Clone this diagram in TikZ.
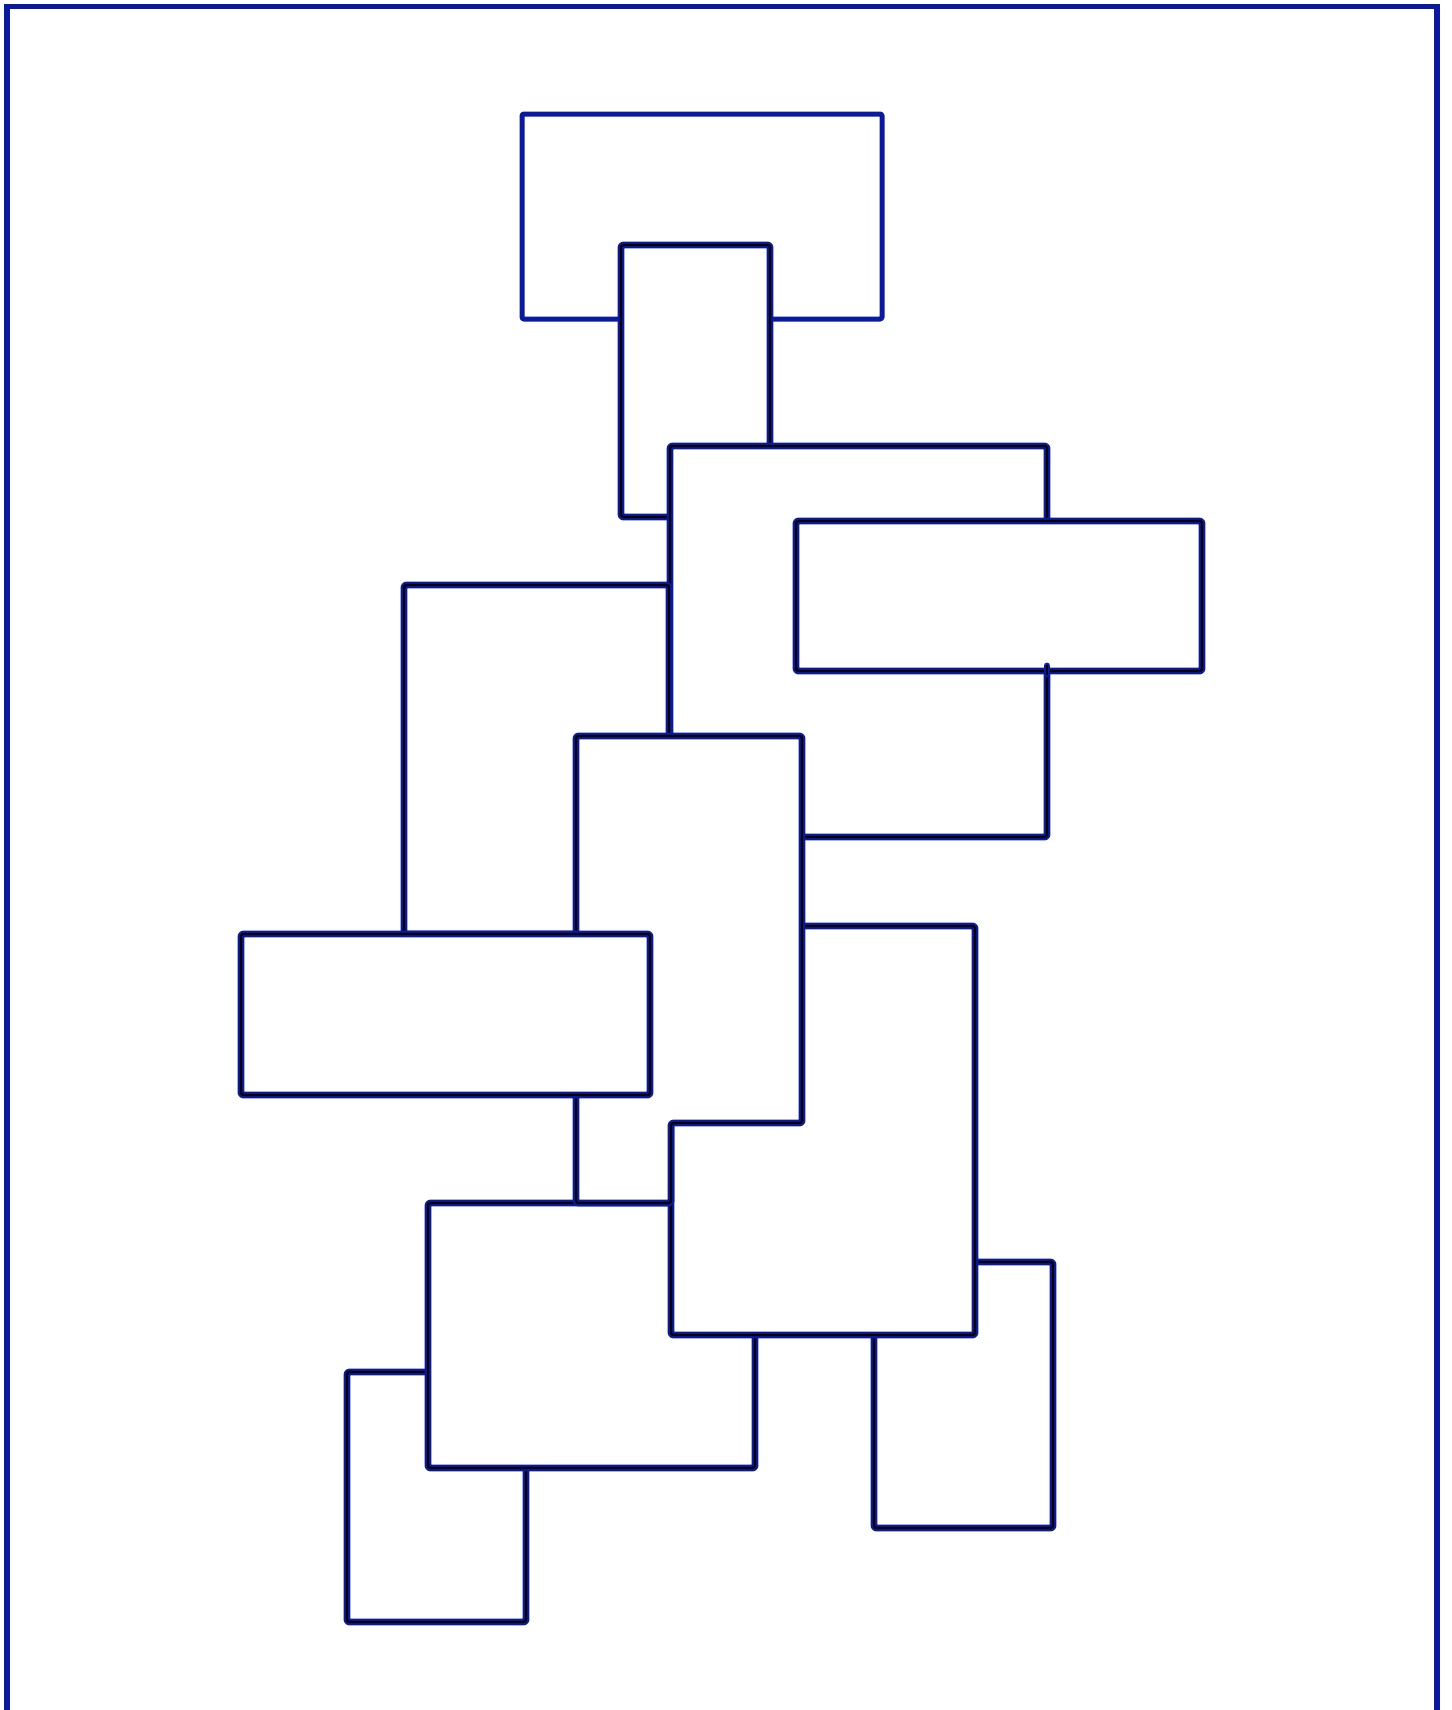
\documentclass[tikz,border=0pt]{standalone}
\definecolor{fb}{RGB}{10,26,160}
\begin{document}
\begin{tikzpicture}[x=1pt,y=-1pt,
  box/.style={fill=white, draw=fb, double=black, line width=2.3pt, double distance=2.3pt, rounded corners=2.5pt, line join=round},
  nub/.style={draw=fb, double=black, line width=2.3pt, double distance=2.3pt, line cap=round},
  plain/.style={fill=white, draw=fb, line width=5pt, rounded corners=1.5pt, line join=round},
  frame/.style={draw=fb, line width=5.5pt}]
\useasboundingbox (0,0) rectangle (1451,1710);
\clip (0,0) rectangle (1451,1710);
% outer frame
\draw[frame] (7,1740) -- (7,6.7) -- (1437,6.7) -- (1437,1740);
% R1
\draw[plain] (522,114) rectangle (882,319);
% R2
\draw[box] (621,245) rectangle (770,517);
% R3
\draw[box] (670,446) rectangle (1047,837);
% R4
\draw[box] (796,521) rectangle (1202,671);
\coordinate (nubA) at (1047,666);
\coordinate (nubB) at (1047,674);
\draw[nub] (nubA) -- (nubB);
% R5
\draw[box] (404,585) rectangle (669,934);
% R10
\draw[box] (347,1372) rectangle (526,1622);
% R9
\draw[box] (428,1203) rectangle (755,1468);
% R11
\draw[box] (874,1262) rectangle (1053,1528);
% R8
\draw[box] (671,926) rectangle (975,1335);
% S (stepped shape)
\draw[box] (576,736) -- (802,736) -- (802,1123) -- (671,1123) -- (671,1203) -- (576,1203) -- cycle;
% R7
\draw[box] (241,934) rectangle (650,1095);
\end{tikzpicture}
\end{document}
